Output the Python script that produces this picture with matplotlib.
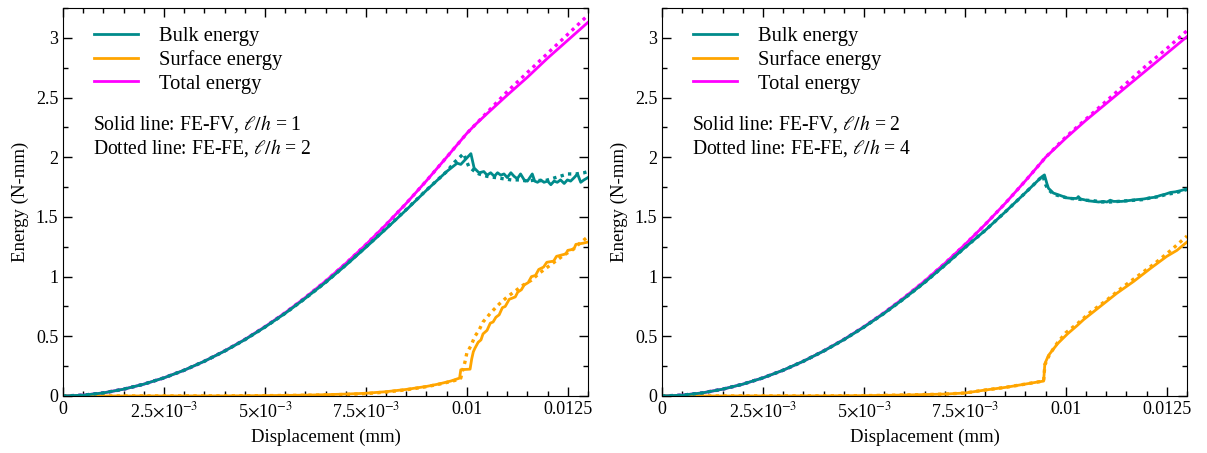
import numpy as np
import matplotlib
matplotlib.use("Agg")
import matplotlib.pyplot as plt
from matplotlib.ticker import MultipleLocator, FixedLocator, FixedFormatter, FormatStrFormatter
from matplotlib.lines import Line2D

plt.rcParams['font.family'] = ['Liberation Serif', 'DejaVu Serif']
plt.rcParams['mathtext.fontset'] = 'stix'

teal = '#008b8b'
orange = '#ffa500'
magenta = '#ff00ff'

# ---------------- left panel: FE-FV l/h=1 (solid), FE-FE l/h=2 (dotted) ----------------
pre_x = [0, .0005, .001, .0015, .002, .0025, .003, .0035, .004, .0045, .005,
         .0055, .006, .0065, .007, .0075, .008, .0085, .009]

L_total_x = pre_x + [.0095, .0098, .01, .0102, .0105, .011, .0115, .012, .0125, .013]
L_total_solid = [0, .007, .026, .057, .099, .152, .216, .291, .377, .473, .58,
                 .697, .825, .962, 1.11, 1.268, 1.436, 1.614, 1.803,
                 2.0, 2.12, 2.2, 2.27, 2.365, 2.52, 2.67, 2.83, 2.98, 3.13]
L_total_dot = [0, .007, .026, .057, .099, .152, .216, .291, .377, .473, .58,
               .697, .825, .962, 1.11, 1.268, 1.436, 1.614, 1.803,
               2.0, 2.12, 2.2, 2.27, 2.375, 2.55, 2.71, 2.87, 3.03, 3.19]

L_bulk_solid_x = pre_x + [.0095, .00976, .00985, .0101, .01018, .0103, .01042, .0105, .01059,
                          .01068, .01076, .01084, .01092, .011, .01109, .01117, .01125,
                          .01133, .01142, .0115, .01162, .01168, .01175, .01183, .01191,
                          .012, .01208, .01216, .01224, .01232, .01241, .01249, .01257,
                          .01266, .01274, .01282, .0129, .013]
L_bulk_solid = [0, .007, .026, .057, .099, .152, .216, .291, .376, .471, .577,
                .692, .818, .951, 1.094, 1.245, 1.40, 1.559, 1.723,
                1.88, 1.95, 1.94, 2.03, 1.91, 1.87, 1.88, 1.85, 1.87,
                1.84, 1.87, 1.85, 1.86, 1.83, 1.87, 1.84, 1.82,
                1.86, 1.81, 1.80, 1.86, 1.80, 1.79, 1.81, 1.79,
                1.80, 1.77, 1.80, 1.79, 1.81, 1.78, 1.81, 1.80,
                1.83, 1.86, 1.79, 1.81, 1.83]
L_bulk_dot_x = pre_x + [.0095, .0097, .00992, .01005, .0102, .0103, .0105, .0107, .0109,
                        .0111, .0113, .0115, .0117, .0119, .0121, .0123, .0125, .0127,
                        .0129, .013]
L_bulk_dot = [0, .007, .026, .057, .099, .152, .216, .291, .376, .471, .577,
              .692, .818, .951, 1.096, 1.248, 1.403, 1.562, 1.725,
              1.88, 1.96, 2.03, 1.92, 1.88, 1.86, 1.84, 1.83, 1.82,
              1.81, 1.81, 1.80, 1.81, 1.80, 1.82, 1.84, 1.86, 1.86,
              1.87, 1.88]

L_surf_solid_x = [0, .004, .005, .006, .0065, .007, .0075, .008, .0085, .009, .0093,
                  .0096, .00982, .00985, .01008, .01012, .01016, .0102, .01028, .01035,
                  .0104, .0105, .01058, .01065, .01072, .0108, .01088, .01095, .01105,
                  .0112, .01126, .01135, .01142, .01152, .0116, .0117, .01178, .0119,
                  .01198, .01215, .01222, .01245, .0125, .01265, .0127, .01288, .013]
L_surf_solid = [0, .001, .003, .007, .011, .016, .023, .036, .055, .08, .10,
                .125, .15, .22, .225, .31, .37, .40, .45, .47,
                .52, .55, .61, .62, .66, .68, .74, .75, .81,
                .83, .87, .89, .93, .95, 1.00, 1.01, 1.06, 1.08,
                1.12, 1.13, 1.17, 1.19, 1.22, 1.23, 1.27, 1.28, 1.29]
L_surf_dot_x = [0, .004, .005, .006, .007, .0075, .008, .0085, .009, .0094, .0097,
                .00985, .0099, .00995, .01, .0101, .0102, .0103, .0104, .0106, .0108,
                .011, .0112, .0114, .0116, .0118, .012, .0122, .0124, .0126, .0128, .013]
L_surf_dot = [0, .001, .003, .006, .013, .02, .033, .052, .078, .105, .13,
              .15, .22, .28, .36, .42, .50, .55, .62, .70, .77,
              .83, .88, .93, .97, 1.03, 1.08, 1.13, 1.18, 1.22, 1.28, 1.335]

# ---------------- right panel: FE-FV l/h=2 (solid), FE-FE l/h=4 (dotted) ----------------
R_total_x = pre_x + [.0094, .0095, .01, .0105, .011, .0115, .012, .0125, .013]
R_total_solid = [0, .007, .026, .057, .099, .152, .216, .291, .377, .473, .58,
                 .697, .825, .962, 1.11, 1.268, 1.436, 1.614, 1.803,
                 1.96, 2.0, 2.16, 2.31, 2.45, 2.59, 2.73, 2.87, 3.01]
R_total_dot = [0, .007, .026, .057, .099, .152, .216, .291, .377, .473, .58,
               .697, .825, .962, 1.11, 1.268, 1.436, 1.614, 1.803,
               1.96, 2.0, 2.17, 2.32, 2.47, 2.62, 2.77, 2.91, 3.06]

R_bulk_solid_x = pre_x + [.0094, .00947, .00953, .00957, .00969, .00986, .01002, .01015,
                          .01027, .01031, .01036, .01044, .01056, .01069, .01081, .01093,
                          .01102, .0111, .01118, .01126, .01138, .01151, .01163, .01176,
                          .01192, .01209, .01221, .01234, .01246, .01259, .01271, .01284, .013]
R_bulk_solid = [0, .007, .026, .057, .099, .152, .216, .291, .376, .471, .577,
                .692, .817, .950, 1.094, 1.243, 1.386, 1.542, 1.703,
                1.835, 1.852, 1.78, 1.74, 1.70, 1.68, 1.66, 1.655,
                1.655, 1.67, 1.65, 1.645, 1.635, 1.63, 1.625, 1.63,
                1.625, 1.64, 1.63, 1.63, 1.63, 1.635, 1.64, 1.645,
                1.65, 1.66, 1.665, 1.68, 1.69, 1.705, 1.71, 1.72, 1.735]
R_bulk_dot_x = pre_x + [.0094, .00943, .0095, .00956, .0097, .0099, .0101, .0103, .0105,
                        .0107, .0109, .0111, .0113, .0115, .0117, .0119, .0121, .0123,
                        .0125, .0127, .0129, .013]
R_bulk_dot = [0, .007, .026, .057, .099, .152, .216, .291, .376, .471, .577,
              .692, .817, .950, 1.094, 1.243, 1.386, 1.542, 1.703,
              1.835, 1.845, 1.77, 1.73, 1.69, 1.67, 1.655, 1.65, 1.64,
              1.635, 1.625, 1.625, 1.63, 1.635, 1.64, 1.645, 1.66, 1.67,
              1.69, 1.70, 1.72, 1.73]

R_surf_solid_x = [0, .004, .005, .006, .0065, .007, .0075, .008, .0085, .009, .0093,
                  .00945, .00948, .00957, .0098, .01004, .01028, .01044, .01085, .01126,
                  .01168, .0121, .0125, .01275, .013]
R_surf_solid = [0, .001, .003, .008, .012, .016, .025, .05, .072, .10, .117,
                .125, .27, .34, .44, .52, .59, .64, .75, .86,
                .96, 1.07, 1.17, 1.22, 1.29]
R_surf_dot_x = [0, .004, .005, .006, .0065, .007, .0075, .008, .0085, .009, .0093,
                .00945, .00948, .0096, .0098, .01, .0103, .0106, .011, .0114, .0118,
                .0122, .0126, .013]
R_surf_dot = [0, .001, .003, .008, .012, .016, .025, .05, .072, .10, .117,
              .125, .26, .35, .45, .53, .61, .70, .80, .91, 1.01,
              1.11, 1.22, 1.34]

xticks = [0, 0.0025, 0.005, 0.0075, 0.01, 0.0125]
xticklabels = ['0', r'2.5$\times$10$^{-3}$', r'5$\times$10$^{-3}$',
               r'7.5$\times$10$^{-3}$', '0.01', '0.0125']
yticks = [0, 0.5, 1, 1.5, 2, 2.5, 3]

panels = [
    dict(total=(L_total_x, L_total_solid, L_total_x, L_total_dot),
         bulk=(L_bulk_solid_x, L_bulk_solid, L_bulk_dot_x, L_bulk_dot),
         surf=(L_surf_solid_x, L_surf_solid, L_surf_dot_x, L_surf_dot),
         notes=(r'Solid line: FE-FV, $\ell/h$ = 1', r'Dotted line: FE-FE, $\ell/h$ = 2')),
    dict(total=(R_total_x, R_total_solid, R_total_x, R_total_dot),
         bulk=(R_bulk_solid_x, R_bulk_solid, R_bulk_dot_x, R_bulk_dot),
         surf=(R_surf_solid_x, R_surf_solid, R_surf_dot_x, R_surf_dot),
         notes=(r'Solid line: FE-FV, $\ell/h$ = 2', r'Dotted line: FE-FE, $\ell/h$ = 4')),
]

W, H = 1207, 453
fig = plt.figure(figsize=(W / 100, H / 100), dpi=100)
lefts = [63, 662]

lw = 2.0
dots = (0, (1, 1.3))
for p, left in zip(panels, lefts):
    ax = fig.add_axes([left / W, 57 / H, 525 / W, 388 / H])
    for key, col in [('total', magenta), ('surf', orange), ('bulk', teal)]:
        xs, ys, xd, yd = p[key]
        ax.plot(xd, yd, color=col, lw=2.4, linestyle=dots)
        ax.plot(xs, ys, color=col, lw=lw)

    ax.set_xlim(0, 0.013)
    ax.set_ylim(0, 3.25)
    ax.xaxis.set_major_locator(FixedLocator(xticks))
    ax.xaxis.set_major_formatter(FixedFormatter(xticklabels))
    ax.xaxis.set_minor_locator(MultipleLocator(0.0005))
    ax.yaxis.set_major_locator(FixedLocator(yticks))
    ax.yaxis.set_major_formatter(FormatStrFormatter('%g'))
    ax.yaxis.set_minor_locator(MultipleLocator(0.25))
    ax.tick_params(which='both', direction='in', top=True, right=True, labelsize=13)
    ax.tick_params(which='major', length=6.5, width=1)
    ax.tick_params(which='minor', length=3.5, width=1)
    ax.set_xlabel('Displacement (mm)', fontsize=13.5, labelpad=6)
    ax.set_ylabel('Energy (N-mm)', fontsize=13.5, labelpad=5)

    handles = [Line2D([], [], color=teal, lw=lw),
               Line2D([], [], color=orange, lw=lw),
               Line2D([], [], color=magenta, lw=lw)]
    ax.legend(handles, ['Bulk energy', 'Surface energy', 'Total energy'],
              loc='upper left', bbox_to_anchor=(0.059, 0.952), frameon=False,
              fontsize=14.8, handlelength=2.15, handletextpad=1.0,
              labelspacing=0.2, borderaxespad=0, borderpad=0)
    ax.text(0.057, 0.686, p['notes'][0], transform=ax.transAxes, fontsize=14.1, va='baseline')
    ax.text(0.057, 0.626, p['notes'][1], transform=ax.transAxes, fontsize=14.1, va='baseline')

fig.savefig('out.png', dpi=100)
